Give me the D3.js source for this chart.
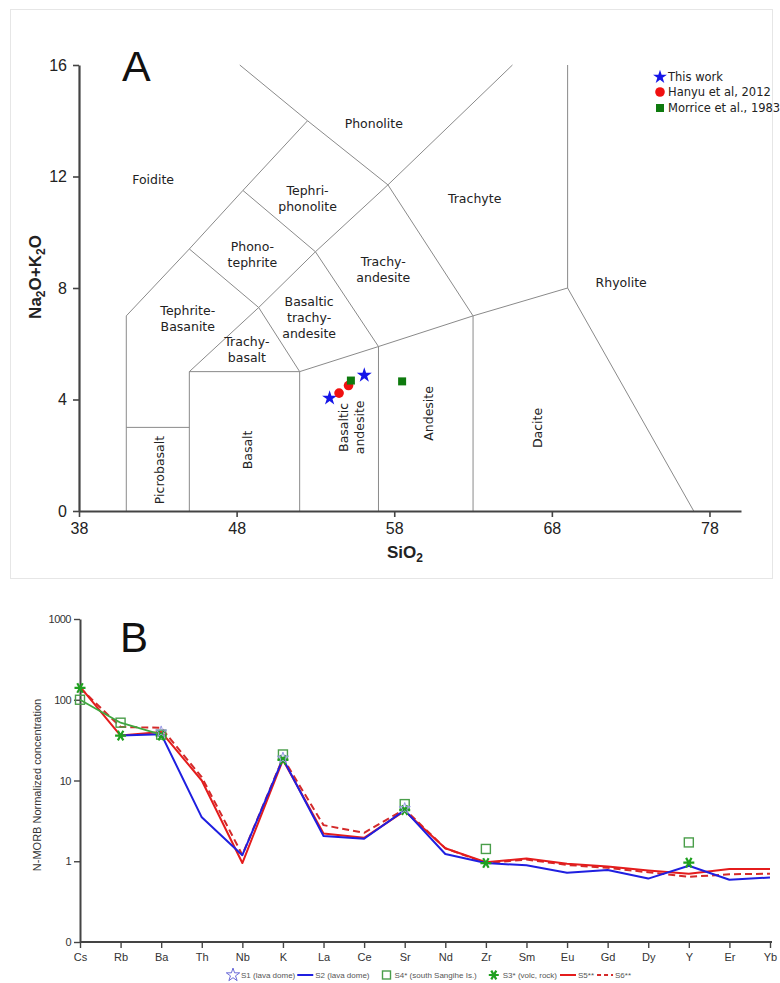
<!DOCTYPE html>
<html>
<head>
<meta charset="utf-8">
<script src="https://cdn.jsdelivr.net/npm/d3@7"></script>
<style>
  html, body { margin: 0; padding: 0; background: #fff; }
  svg { display: block; }
</style>
</head>
<body>
<svg id="chart" width="780" height="983"></svg>
<script>
// ---- Panel A data (TAS diagram) ----
const SIO2_TICKS = [38, 48, 58, 68, 78];
const ALK_TICKS = [0, 4, 8, 12, 16];

// field boundaries, [SiO2, Na2O+K2O] pairs
const TAS_BOUNDARIES = [
  [[41, 0], [41, 7]], [[41, 3], [45, 3]], [[45, 0], [45, 5]],
  [[45, 5], [52, 5]], [[52, 0], [52, 5]], [[52, 5], [57, 5.9]],
  [[57, 0], [57, 5.9]], [[57, 5.9], [63, 7]], [[63, 0], [63, 7]],
  [[63, 7], [69, 8]], [[69, 8], [77, 0]], [[69, 8], [69, 16]],
  [[45, 5], [49.4, 7.3]], [[49.4, 7.3], [52, 5]],
  [[49.4, 7.3], [53, 9.3]], [[53, 9.3], [57, 5.9]],
  [[53, 9.3], [57.6, 11.7]], [[57.6, 11.7], [63, 7]],
  [[57.6, 11.7], [65.5, 16]],
  [[41, 7], [45, 9.4]], [[45, 9.4], [49.4, 7.3]],
  [[45, 9.4], [48.4, 11.5]], [[48.4, 11.5], [53, 9.3]],
  [[48.4, 11.5], [52.5, 14]], [[52.5, 14], [57.6, 11.7]],
  [[52.5, 14], [48.2, 16]]
];

const FIELD_NAMES = [
  ["Foidite"], ["Phonolite"], ["Tephri-", "phonolite"], ["Phono-", "tephrite"],
  ["Trachyte"], ["Trachy-", "andesite"], ["Rhyolite"], ["Tephrite-", "Basanite"],
  ["Basaltic", "trachy-", "andesite"], ["Trachy-", "basalt"], ["Picrobasalt"],
  ["Basalt"], ["Basaltic", "andesite"], ["Andesite"], ["Dacite"]
];
const FIELD_SIO2 = [42.7, 56.7, 52.5, 49.0, 63.1, 57.3, 72.4, 44.9, 52.6, 48.65, 43.1, 48.7, 55.3, 60.2, 67.1];
const FIELD_ALK = [11.9, 13.9, 11.2, 9.2, 11.2, 8.65, 8.2, 6.9, 6.95, 5.78, 1.47, 2.19, 3.0, 3.5, 2.98];
const FIELD_VERTICAL = [false, false, false, false, false, false, false, false, false, false, true, true, true, true, true];

const THIS_WORK = [[53.9, 4.05], [56.1, 4.87]];
const HANYU_2012 = [[54.5, 4.23], [55.1, 4.5]];
const MORRICE_1983 = [[55.25, 4.68], [58.5, 4.65]];

// ---- Panel B data (N-MORB normalized spider diagram) ----
const ELEMENTS = ["Cs", "Rb", "Ba", "Th", "Nb", "K", "La", "Ce", "Sr", "Nd", "Zr", "Sm", "Eu", "Gd", "Dy", "Y", "Er", "Yb"];
const Y_TICKS_B = [0.1, 1, 10, 100, 1000];
const Y_TICK_LABELS_B = ["0", "1", "10", "100", "1000"];

const S1 = [null, null, 40, null, null, 19, null, null, 4.5, null, null, null, null, null, null, null, null, null];
const S2 = [null, 36, 37.5, 3.5, 1.19, 18.6, 2.05, 1.9, 4.3, 1.23, 0.95, 0.89, 0.72, 0.78, 0.61, 0.88, 0.59, 0.63];
const S4 = [100, 52, 37, null, null, 21, null, null, 5.1, null, 1.42, null, null, null, null, 1.71, null, null];
const S3 = [140, 36, 36, null, null, 18, null, null, 4.3, null, 0.95, null, null, null, null, 0.96, null, null];
const S5 = [145, 36, 40, 10, 0.95, 18, 2.2, 1.95, 4.2, 1.45, 0.97, 1.08, 0.93, 0.86, 0.77, 0.70, 0.80, 0.80];
const S6 = [140, 46, 45, 11, 1.2, 19, 2.8, 2.25, 4.4, 1.45, 0.95, 1.05, 0.9, 0.83, 0.73, 0.64, 0.69, 0.70];

const LEGEND_B = ["S1 (lava dome)", "S2 (lava dome)", "S4* (south Sangihe Is.)", "S3* (volc, rock)", "S5**", "S6**"];

const svg = d3.select("#chart");
const AXIS_COL = "#444";

// =================== Panel A ===================
svg.append("rect")
  .attr("x", 10.5).attr("y", 9.5).attr("width", 762).attr("height", 569)
  .attr("fill", "#fff").attr("stroke", "#e6e6e6");

const xA = d3.scaleLinear().domain([38, 80]).range([79, 741]);
const yA = d3.scaleLinear().domain([0, 16]).range([511, 65]);

const gA = svg.append("g");

// boundaries
gA.selectAll("line.bnd")
  .data(TAS_BOUNDARIES)
  .join("line")
  .attr("class", "bnd")
  .attr("x1", d => xA(d[0][0])).attr("y1", d => yA(d[0][1]))
  .attr("x2", d => xA(d[1][0])).attr("y2", d => yA(d[1][1]))
  .attr("stroke", "#8a8a8a").attr("stroke-width", 1);

// field names
const fields = FIELD_NAMES.map((lines, i) => ({
  lines: lines, x: FIELD_SIO2[i], y: FIELD_ALK[i], vertical: FIELD_VERTICAL[i]
}));
const lineH = 16;
gA.selectAll("text.field")
  .data(fields)
  .join("text")
  .attr("class", "field")
  .attr("font-family", "'DejaVu Sans', sans-serif")
  .attr("font-size", 12.5)
  .attr("fill", "#222")
  .attr("text-anchor", "middle")
  .attr("transform", d => "translate(" + xA(d.x) + "," + yA(d.y) + ")" + (d.vertical ? " rotate(-90)" : ""))
  .each(function (d) {
    const t = d3.select(this);
    const n = d.lines.length;
    d.lines.forEach((ln, k) => {
      t.append("tspan")
        .attr("x", 0)
        .attr("y", (k - (n - 1) / 2) * lineH)
        .attr("dy", "0.35em")
        .text(ln);
    });
  });

// axes
const axisAx = d3.axisBottom(xA).tickValues(SIO2_TICKS).tickSize(6).tickPadding(6).tickSizeOuter(0);
const axisAy = d3.axisLeft(yA).tickValues(ALK_TICKS).tickSize(6).tickPadding(6).tickSizeOuter(0);
const gAx = gA.append("g").attr("transform", "translate(0,511)").call(axisAx);
const gAy = gA.append("g").attr("transform", "translate(79,0)").call(axisAy);
[gAx, gAy].forEach(g => {
  g.select(".domain").attr("stroke", AXIS_COL).attr("stroke-width", 2.2);
  g.selectAll(".tick line").attr("stroke", AXIS_COL).attr("stroke-width", 1.6);
  g.selectAll(".tick text")
    .attr("font-family", "'Liberation Sans', Arial, sans-serif")
    .attr("font-size", 16).attr("fill", "#222");
});

// axis titles
const ytA = gA.append("text")
  .attr("transform", "translate(41,277) rotate(-90)")
  .attr("text-anchor", "middle")
  .attr("font-family", "'Liberation Sans', Arial, sans-serif")
  .attr("font-size", 17).attr("font-weight", "bold").attr("fill", "#222");
ytA.append("tspan").text("Na");
ytA.append("tspan").attr("font-size", 12).attr("dy", 4).text("2");
ytA.append("tspan").attr("dy", -4).text("O+K");
ytA.append("tspan").attr("font-size", 12).attr("dy", 4).text("2");
ytA.append("tspan").attr("dy", -4).text("O");

const xtA = gA.append("text")
  .attr("x", 405).attr("y", 558)
  .attr("text-anchor", "middle")
  .attr("font-family", "'Liberation Sans', Arial, sans-serif")
  .attr("font-size", 17).attr("font-weight", "bold").attr("fill", "#222");
xtA.append("tspan").text("SiO");
xtA.append("tspan").attr("font-size", 12).attr("dy", 4).text("2");

gA.append("text")
  .attr("x", 122).attr("y", 81)
  .attr("font-family", "'Liberation Sans', Arial, sans-serif")
  .attr("font-size", 43).attr("fill", "#111").text("A");

// data points
const starSym = d3.symbol().type(d3.symbolStar);
gA.selectAll("path.tw")
  .data(THIS_WORK).join("path").attr("class", "tw")
  .attr("transform", d => "translate(" + xA(d[0]) + "," + yA(d[1]) + ")")
  .attr("d", starSym.size(70)())
  .attr("fill", "#1515e8");
gA.selectAll("circle.hy")
  .data(HANYU_2012).join("circle").attr("class", "hy")
  .attr("cx", d => xA(d[0])).attr("cy", d => yA(d[1])).attr("r", 4.8)
  .attr("fill", "#f01010");
gA.selectAll("rect.mo")
  .data(MORRICE_1983).join("rect").attr("class", "mo")
  .attr("x", d => xA(d[0]) - 4).attr("y", d => yA(d[1]) - 4)
  .attr("width", 8).attr("height", 8)
  .attr("fill", "#0e7a0e");

// legend A
const legA = gA.append("g").attr("font-family", "'DejaVu Sans', sans-serif").attr("font-size", 11.5).attr("fill", "#222");
legA.append("path").attr("transform", "translate(660,77)").attr("d", starSym.size(60)()).attr("fill", "#1515e8");
legA.append("text").attr("x", 668).attr("y", 81).text("This work");
legA.append("circle").attr("cx", 660).attr("cy", 92).attr("r", 4.8).attr("fill", "#f01010");
legA.append("text").attr("x", 668).attr("y", 96).text("Hanyu et al, 2012");
legA.append("rect").attr("x", 656).attr("y", 104).attr("width", 8).attr("height", 8).attr("fill", "#0e7a0e");
legA.append("text").attr("x", 668).attr("y", 112).text("Morrice et al., 1983");

// =================== Panel B ===================
const xB = d3.scalePoint().domain(ELEMENTS).range([80, 770]);
const yB = d3.scaleLog().domain([0.1, 1000]).range([942, 619]);
const gB = svg.append("g");

const axisBx = d3.axisBottom(xB).tickSize(6).tickPadding(5).tickSizeOuter(0);
const axisBy = d3.axisLeft(yB).tickValues(Y_TICKS_B)
  .tickFormat((d, i) => Y_TICK_LABELS_B[i]).tickSize(6).tickPadding(3).tickSizeOuter(0);
const gBx = gB.append("g").attr("transform", "translate(0,942)").call(axisBx);
const gBy = gB.append("g").attr("transform", "translate(80,0)").call(axisBy);
gBx.select(".domain").attr("d", "M80,0H772");
[gBx, gBy].forEach(g => {
  g.select(".domain").attr("stroke", AXIS_COL).attr("stroke-width", 2);
  g.selectAll(".tick line").attr("stroke", AXIS_COL).attr("stroke-width", 1.4);
  g.selectAll(".tick text")
    .attr("font-family", "'Liberation Sans', Arial, sans-serif")
    .attr("font-size", 11).attr("fill", "#333");
});
gBy.selectAll(".tick text").attr("letter-spacing", -0.5);

gB.append("text")
  .attr("transform", "translate(41,785) rotate(-90)")
  .attr("text-anchor", "middle")
  .attr("font-family", "'Liberation Sans', Arial, sans-serif")
  .attr("font-size", 11).attr("fill", "#333")
  .text("N-MORB Normalized concentration");

gB.append("text")
  .attr("x", 120).attr("y", 652)
  .attr("font-family", "'Liberation Sans', Arial, sans-serif")
  .attr("font-size", 42).attr("fill", "#111").text("B");

const lineB = d3.line()
  .defined(d => d != null)
  .x((d, i) => xB(ELEMENTS[i]))
  .y(d => yB(d));

function drawLine(vals, color, width, dash) {
  gB.append("path")
    .datum(vals)
    .attr("d", lineB)
    .attr("fill", "none")
    .attr("stroke", color)
    .attr("stroke-width", width)
    .attr("stroke-dasharray", dash || null)
    .attr("stroke-linejoin", "round");
}

function pts(vals) {
  return vals.map((v, i) => ({ el: ELEMENTS[i], v: v })).filter(d => d.v != null);
}

drawLine(S6, "#d42a2a", 2, "7,4");
drawLine(S5, "#e41c1c", 2);
drawLine(S2, "#1f1fe0", 2);
drawLine(S4, "#3ea83e", 1.8);

// S4 open squares
gB.selectAll("rect.s4")
  .data(pts(S4)).join("rect").attr("class", "s4")
  .attr("x", d => xB(d.el) - 4.5).attr("y", d => yB(d.v) - 4.5)
  .attr("width", 9).attr("height", 9)
  .attr("fill", "none").attr("stroke", "#4a9e4a").attr("stroke-width", 1.4);

// S3 asterisks
function asterisk(size) {
  const r = size / 2;
  let d = "";
  [0, 60, 120].forEach(a => {
    const rad = a * Math.PI / 180;
    const dx = r * Math.cos(rad), dy = r * Math.sin(rad);
    d += "M" + (-dx) + "," + (-dy) + "L" + dx + "," + dy;
  });
  return d;
}
gB.selectAll("path.s3")
  .data(pts(S3)).join("path").attr("class", "s3")
  .attr("transform", d => "translate(" + xB(d.el) + "," + yB(d.v) + ")")
  .attr("d", asterisk(11))
  .attr("stroke", "#20a020").attr("stroke-width", 2.2).attr("fill", "none");

// S1 open stars
gB.selectAll("path.s1")
  .data(pts(S1)).join("path").attr("class", "s1")
  .attr("transform", d => "translate(" + xB(d.el) + "," + yB(d.v) + ")")
  .attr("d", starSym.size(40)())
  .attr("fill", "none").attr("stroke", "#9a9ae6").attr("stroke-width", 1);

// legend B, laid out left to right from measured text widths
const legB = gB.append("g")
  .attr("font-family", "'Liberation Sans', Arial, sans-serif")
  .attr("font-size", 8).attr("fill", "#555");
const legY = 975;
const keyDrawers = [
  (g, x) => g.append("path").attr("transform", "translate(" + (x + 6) + "," + legY + ")")
    .attr("d", starSym.size(55)()).attr("fill", "none").attr("stroke", "#6a6ad8").attr("stroke-width", 1),
  (g, x) => g.append("line").attr("x1", x).attr("x2", x + 16).attr("y1", legY).attr("y2", legY)
    .attr("stroke", "#1f1fe0").attr("stroke-width", 2),
  (g, x) => g.append("rect").attr("x", x + 3).attr("y", legY - 4).attr("width", 8).attr("height", 8)
    .attr("fill", "none").attr("stroke", "#4a9e4a").attr("stroke-width", 1.4),
  (g, x) => g.append("path").attr("transform", "translate(" + (x + 7) + "," + legY + ")")
    .attr("d", asterisk(10)).attr("stroke", "#20a020").attr("stroke-width", 2.2),
  (g, x) => g.append("line").attr("x1", x).attr("x2", x + 16).attr("y1", legY).attr("y2", legY)
    .attr("stroke", "#e41c1c").attr("stroke-width", 2),
  (g, x) => g.append("line").attr("x1", x).attr("x2", x + 16).attr("y1", legY).attr("y2", legY)
    .attr("stroke", "#d42a2a").attr("stroke-width", 2).attr("stroke-dasharray", "4,3")
];
const keyW = [13, 17, 14, 15, 17, 17];
const keyGap = [10, 2, 10, 10, 3, 3];
let lx = 227;
LEGEND_B.forEach((label, i) => {
  if (i > 0) lx += keyGap[i];
  keyDrawers[i](legB, lx);
  lx += keyW[i] + 1;
  const t = legB.append("text").attr("x", lx).attr("y", legY + 3).text(label);
  lx += t.node().getComputedTextLength();
});
</script>
</body>
</html>
